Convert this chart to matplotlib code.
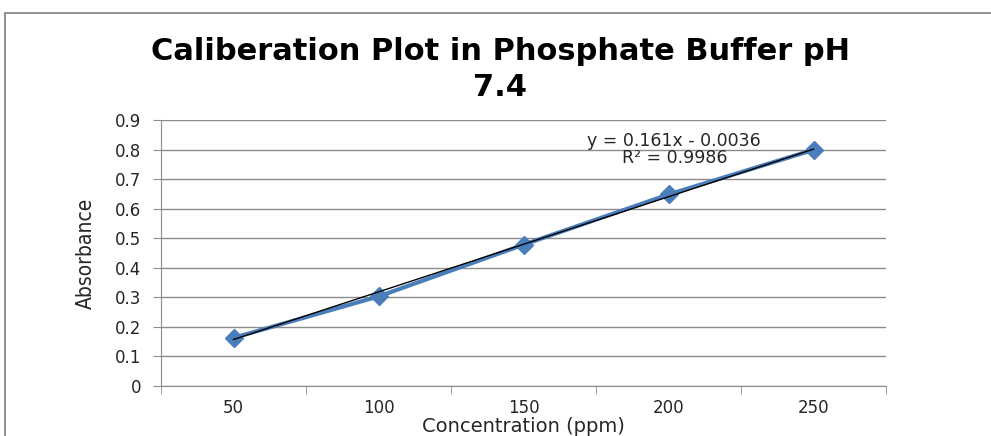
import matplotlib

matplotlib.use("Agg")
import matplotlib.pyplot as plt
import numpy as np
from matplotlib import font_manager
from matplotlib.patches import Rectangle

# data
concentration = ["50", "100", "150", "200", "250"]
absorbance = [0.163, 0.303, 0.478, 0.648, 0.799]
slope = 0.161
intercept = -0.0036
r_squared = 0.9986

BLUE = "#4a7ebb"
GRID = "#8c8c8c"
INK = "#262626"


def _narrow_font(size):
    # condensed upright face for the y label, if one is installed
    for path in sorted(font_manager.findSystemFonts()):
        name = path.lower()
        if ("narrow" in name or "condensed" in name) and not any(
                k in name for k in ("bold", "italic", "oblique")):
            return font_manager.FontProperties(fname=path, size=size)
    return font_manager.FontProperties(family="Liberation Sans", size=size)


fig = plt.figure(figsize=(9.91, 4.36), dpi=100)
fig.patch.set_facecolor("white")

# chart-area frame (Excel style), cut off at right and bottom
fig.patches.append(Rectangle((5 / 991, -0.1), 1.2, (436 - 13) / 436 + 0.1,
                             transform=fig.transFigure, fill=False,
                             edgecolor="#7f7f7f", linewidth=1.2))

ax = fig.add_axes([161 / 991, 50 / 436, 725 / 991, 266 / 436])

x = np.arange(1, len(concentration) + 1)
trend = slope * x + intercept

ax.plot(x, absorbance, color=BLUE, linewidth=3, marker="D", markersize=9,
        markerfacecolor=BLUE, markeredgecolor=BLUE, zorder=3)
ax.plot(x, trend, color="black", linewidth=1, zorder=4)

ax.set_xlim(0.5, len(concentration) + 0.5)
ax.set_ylim(0, 0.9)
ax.set_yticks(np.arange(0, 0.91, 0.1))
ax.set_yticklabels(["0"] + [f"{v:.1f}" for v in np.arange(0.1, 0.91, 0.1)])
ax.set_xticks(x)
ax.set_xticklabels(concentration)
ax.set_xticks(np.arange(0.5, len(concentration) + 1, 1), minor=True)

ax.tick_params(axis="x", which="major", length=0, pad=9, labelsize=12,
               colors=INK)
ax.tick_params(axis="x", which="minor", length=6, color=GRID, direction="out")
ax.tick_params(axis="y", length=6, pad=8, labelsize=12, colors=INK)
ax.tick_params(axis="y", color=GRID)

ax.yaxis.grid(True, color=GRID, linewidth=1)
ax.set_axisbelow(True)
for s in ("top", "right"):
    ax.spines[s].set_visible(False)
for s in ("left", "bottom"):
    ax.spines[s].set_color(GRID)

ax.set_ylabel("Absorbance", fontproperties=_narrow_font(15), labelpad=14,
              color=INK)
ax.set_xlabel("Concentration (ppm)", fontsize=14, labelpad=0.5, color=INK)

ax.text(4.04, 0.83, f"y = {slope}x - {abs(intercept)}", ha="center",
        va="center", fontsize=12.5, color=INK)
ax.text(4.04, 0.77, f"R² = {r_squared}", ha="center", va="center",
        fontsize=12.5, color=INK)

fig.text(0.505, 0.915, "Caliberation Plot in Phosphate Buffer pH\n7.4",
         ha="center", va="top", fontsize=22, fontweight="bold",
         linespacing=1.3, color="black")

fig.savefig("out.png", dpi=100, facecolor="white")
